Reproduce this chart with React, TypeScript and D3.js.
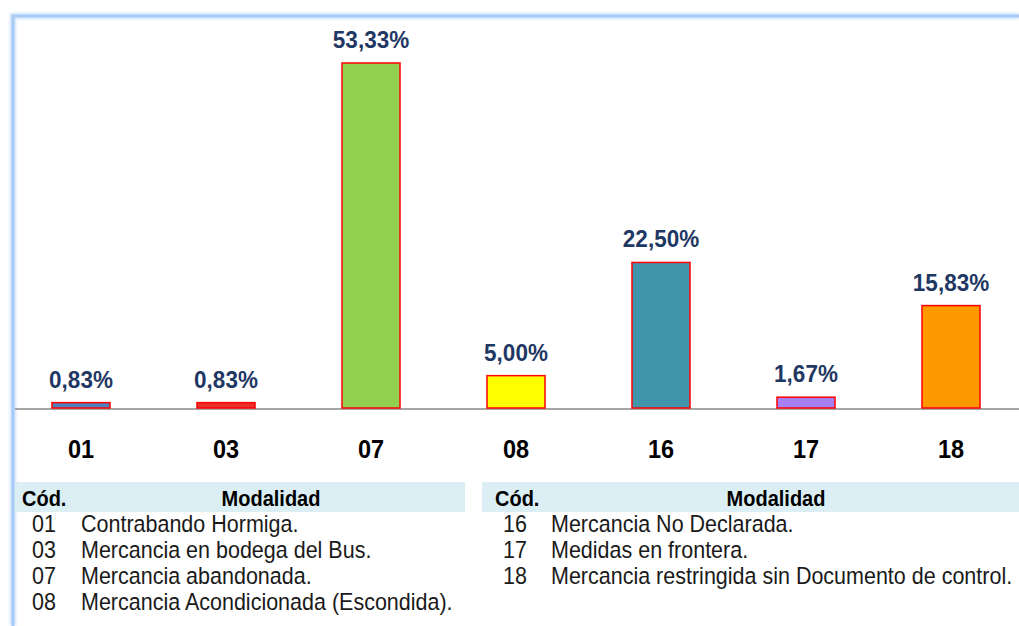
import React from "react";
import * as d3 from "d3";

const codes = ["01", "03", "07", "08", "16", "17", "18"];
const shares = [0.83, 0.83, 53.33, 5.0, 22.5, 1.67, 15.83];
const labels = ["0,83%", "0,83%", "53,33%", "5,00%", "22,50%", "1,67%", "15,83%"];

const legendLeft = [
  ["01", "Contrabando Hormiga."],
  ["03", "Mercancia en bodega del Bus."],
  ["07", "Mercancia abandonada."],
  ["08", "Mercancia Acondicionada (Escondida)."],
];
const legendRight = [
  ["16", "Mercancia No Declarada."],
  ["17", "Medidas en frontera."],
  ["18", "Mercancia restringida sin Documento de control."],
];

const barColors = ["#4f81bd", "#e8302c", "#92d050", "#ffff00", "#4196ac", "#a67ff0", "#ff9900"];

const W = 1019;
const H = 626;
const FONT = "'Liberation Sans', Arial, sans-serif";

// text a bit taller than wide, like the original picture
const Tall = (props: {
  x: number;
  y: number;
  sy: number;
  size: number;
  bold?: boolean;
  anchor?: string;
  fill?: string;
  children: React.ReactNode;
}) => (
  <text
    transform={`translate(${props.x},${props.y}) scale(1,${props.sy})`}
    textAnchor={props.anchor || "start"}
    fontFamily={FONT}
    fontWeight={props.bold ? "bold" : "normal"}
    fontSize={props.size}
    fill={props.fill || "#1a1a1a"}
  >
    {props.children}
  </text>
);

export default function App() {
  const x = d3.scaleBand<string>().domain(codes).range([8.5, 1023.5]).paddingInner(0.6).paddingOuter(0.3);
  const baseline = 408;
  const y = d3.scaleLinear().domain([0, 53.33]).range([baseline, 63]);
  const cx = (c: string) => (x(c) as number) + x.bandwidth() / 2;

  const legendRows = (rows: string[][], codeX: number, textX: number) =>
    rows.map((r, i) => (
      <g key={r[0]}>
        <Tall x={codeX} y={532 + i * 26} sy={1.1} size={21.5}>{r[0]}</Tall>
        <Tall x={textX} y={532 + i * 26} sy={1.1} size={21.5}>{r[1]}</Tall>
      </g>
    ));

  return (
    <svg
      width={W}
      height={H}
      style={{ position: "absolute", left: 0, top: 0, background: "#fff" }}
    >
      <defs>
        <filter id="glow" x="-5%" y="-5%" width="110%" height="110%">
          <feGaussianBlur stdDeviation="1.5" />
        </filter>
      </defs>
      {/* frame */}
      <path d={`M13,${H} V16 H${W}`} fill="none" stroke="#cfe2fb" strokeWidth={6} filter="url(#glow)" />
      <path d={`M13,${H} V16 H${W}`} fill="none" stroke="#a8cbf6" strokeWidth={3} />

      {/* axis baseline */}
      <line x1={15} x2={W} y1={baseline + 1} y2={baseline + 1} stroke="#a6a6a6" strokeWidth={2} />

      {/* bars */}
      {codes.map((c, i) => (
        <rect
          key={c}
          x={x(c)}
          y={y(shares[i])}
          width={x.bandwidth()}
          height={baseline - y(shares[i])}
          fill={barColors[i]}
          stroke="#ff0000"
          strokeWidth={1.5}
        />
      ))}

      {/* value labels */}
      {codes.map((c, i) => (
        <Tall key={c} x={cx(c)} y={y(shares[i]) - 15} sy={1.08} size={22.5} bold anchor="middle" fill="#1f3763">
          {labels[i]}
        </Tall>
      ))}

      {/* category labels */}
      {codes.map((c) => (
        <Tall key={c} x={cx(c)} y={458} sy={1.1} size={23.5} bold anchor="middle" fill="#000">
          {c}
        </Tall>
      ))}

      {/* legend tables */}
      <rect x={15} y={482} width={450} height={30} fill="#daeef3" />
      <rect x={482} y={482} width={W - 482} height={30} fill="#daeef3" />
      <Tall x={22} y={506} sy={1.12} size={20} bold fill="#000">Cód.</Tall>
      <Tall x={271} y={506} sy={1.12} size={20} bold anchor="middle" fill="#000">Modalidad</Tall>
      <Tall x={495} y={506} sy={1.12} size={20} bold fill="#000">Cód.</Tall>
      <Tall x={776} y={506} sy={1.12} size={20} bold anchor="middle" fill="#000">Modalidad</Tall>
      {legendRows(legendLeft, 32, 81)}
      {legendRows(legendRight, 503, 551)}
    </svg>
  );
}
